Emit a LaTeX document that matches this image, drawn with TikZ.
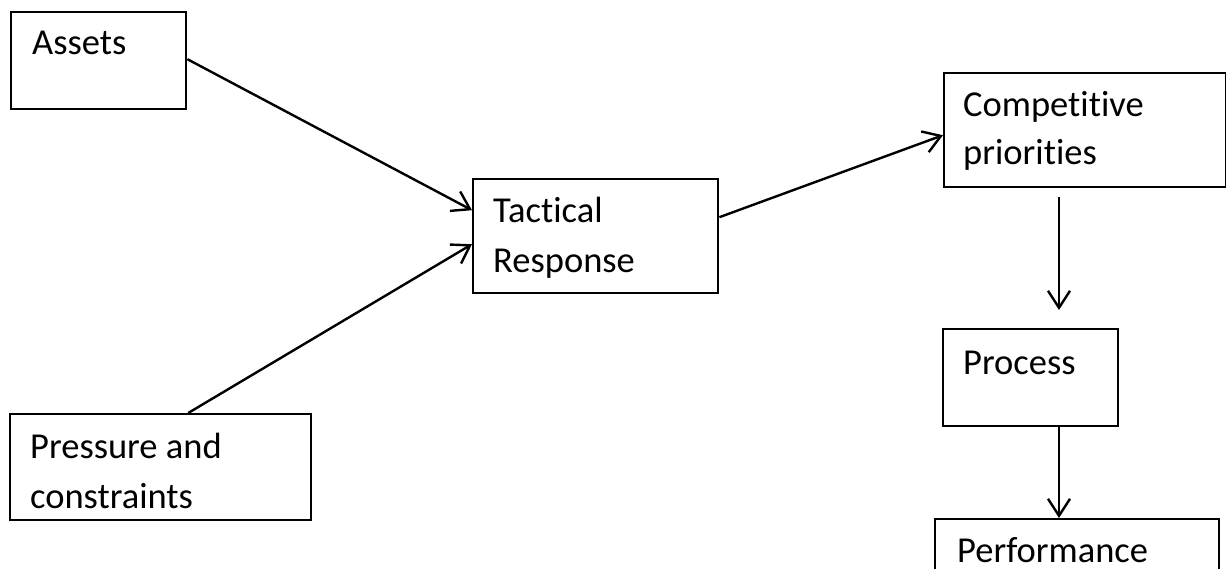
\documentclass[tikz,border=0pt]{standalone}
\usepackage{fontspec}
\setmainfont{Carlito}[Ligatures=NoCommon]
\usetikzlibrary{arrows.meta}
\tikzset{
  box/.style={draw, line width=2.4pt, anchor=north west, inner sep=0pt},
  txt/.style={anchor=base west, inner sep=0pt, font=\fontsize{36.5}{50}\selectfont},
  link/.style={line width=2.4pt, -{Straight Barb[length=17pt,width=22pt,line width=2.4pt]}}
}
\begin{document}
\begin{tikzpicture}[x=1pt, y=-1pt]
  \clip (0,0) rectangle (1226,569);
  \fill[white] (0,0) rectangle (1226,569);

  % boxes
  \node[box, minimum width=175pt, minimum height=97pt] (assets) at (10,11) {};
  \node[box, minimum width=301pt, minimum height=106pt] (pres) at (9,413) {};
  \node[box, minimum width=245pt, minimum height=114pt] (tac) at (472,178) {};
  \node[box, minimum width=282pt, minimum height=114pt] (comp) at (943,72) {};
  \node[box, minimum width=175pt, minimum height=97pt] (proc) at (942,328) {};
  \node[box, minimum width=284pt, minimum height=100pt] (perf) at (934,518) {};

  % labels
  \node[txt] (assets-t) at (32,55) {Assets};
  \node[txt] (pres-t1) at (30,458) {Pressure and};
  \node[txt] (pres-t2) at (30,508) {constraints};
  \node[txt] (tac-t1) at (493,223) {Tactical};
  \node[txt] (tac-t2) at (493,273) {Response};
  \node[txt] (comp-t1) at (963,117) {Competitive};
  \node[txt] (comp-t2) at (963,165) {priorities};
  \node[txt] (proc-t) at (963,374) {Process};
  \node[txt] (perf-t) at (957,562) {Performance};

  % connectors
  \draw[link] ([yshift=1.5pt]assets.east) -- ([yshift=26pt]tac.west);
  \draw[link] ([xshift=27.5pt]pres.north) -- ([yshift=-8pt]tac.west);
  \draw[link] ([yshift=19pt]tac.east) -- ([yshift=-5pt]comp.west);
  \coordinate (c1) at (1059,197);
  \coordinate (c2) at (1059,310);
  \draw[link] (c1) -- (c2);
  \draw[link] (proc.south -| c1) -- (perf.north -| c1);
\end{tikzpicture}
\end{document}
